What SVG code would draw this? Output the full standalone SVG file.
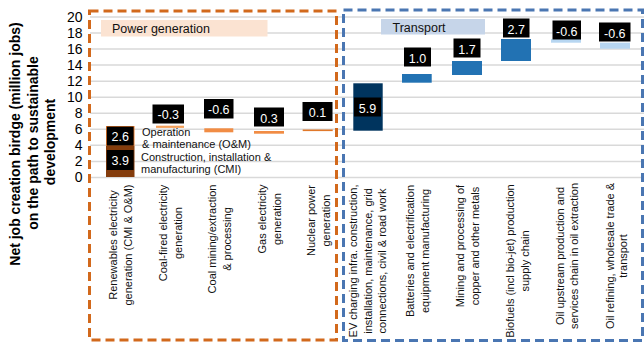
<svg xmlns="http://www.w3.org/2000/svg" width="644" height="343" viewBox="0 0 644 343">
<style>
text{font-family:"Liberation Sans",Arial,sans-serif;fill:#000}
.tick{font-size:14px;text-anchor:end}
.ytitle{font-size:14px;font-weight:bold;text-anchor:middle}
.cat{font-size:11px;text-anchor:middle;fill:#111}
.leg{font-size:11px;fill:#111}
.val{font-size:12.5px;fill:#fff;text-anchor:middle}
.vbox{fill:#000}
.grid{stroke:#D9D9D9;stroke-width:1.5}
.sect{font-size:12.5px;fill:#111}
</style>
<rect width="644" height="343" fill="#fff"/>
<g id="gridlines">
<line class="grid" x1="90" y1="17" x2="644" y2="17"/>
<line class="grid" x1="90" y1="33" x2="644" y2="33"/>
<line class="grid" x1="90" y1="49.1" x2="644" y2="49.1"/>
<line class="grid" x1="90" y1="65.1" x2="644" y2="65.1"/>
<line class="grid" x1="90" y1="81.2" x2="644" y2="81.2"/>
<line class="grid" x1="90" y1="97.2" x2="644" y2="97.2"/>
<line class="grid" x1="90" y1="113.2" x2="644" y2="113.2"/>
<line class="grid" x1="90" y1="129.3" x2="644" y2="129.3"/>
<line class="grid" x1="90" y1="145.3" x2="644" y2="145.3"/>
<line class="grid" x1="90" y1="161.4" x2="644" y2="161.4"/>
<line class="grid" x1="90" y1="177.4" x2="644" y2="177.4"/>
</g>
<g id="y-axis">
<text class="tick" x="82.5" y="21.5">20</text>
<text class="tick" x="82.5" y="37.5">18</text>
<text class="tick" x="82.5" y="53.6">16</text>
<text class="tick" x="82.5" y="69.6">14</text>
<text class="tick" x="82.5" y="85.7">12</text>
<text class="tick" x="82.5" y="101.7">10</text>
<text class="tick" x="82.5" y="117.7">8</text>
<text class="tick" x="82.5" y="133.8">6</text>
<text class="tick" x="82.5" y="149.8">4</text>
<text class="tick" x="82.5" y="165.9">2</text>
<text class="tick" x="82.5" y="181.9">0</text>
<text class="ytitle" transform="translate(20,144) rotate(-90)">Net job creation birdge (million jobs)</text>
<text class="ytitle" transform="translate(37.5,143) rotate(-90)">on the path to sustainable</text>
<text class="ytitle" transform="translate(55,142) rotate(-90)">development</text>
</g>
<g id="power-section">
<rect x="89.5" y="11" width="247" height="329" fill="none" stroke="#D2691C" stroke-width="3" stroke-dasharray="9,5"/>
<rect x="101" y="20" width="166.5" height="16.5" fill="#FBE3D2"/>
<text class="sect" x="112" y="33">Power generation</text>
</g>
<g id="transport-section">
<rect x="343.5" y="10" width="299" height="330.5" fill="none" stroke="#4A76B2" stroke-width="3" stroke-dasharray="9,5"/>
<rect x="381" y="19" width="104" height="15.5" fill="#C6D5E9"/>
<text class="sect" x="392.5" y="31.5">Transport</text>
</g>
<g id="renewables">
<rect x="106" y="126" width="28.5" height="20" fill="#E97A2B"/>
<rect x="106" y="146" width="28.5" height="31" fill="#843C0C"/>
<rect class="vbox" x="106.8" y="126.6" width="26.8" height="19"/>
<text class="val" x="120.2" y="141">2.6</text>
<rect class="vbox" x="106.8" y="150" width="26.8" height="20"/>
<text class="val" x="120.2" y="165">3.9</text>
<text class="leg" x="142" y="136">Operation</text>
<text class="leg" x="142" y="147.5">&amp; maintenance (O&amp;M)</text>
<text class="leg" x="141" y="160.5">Construction, installation &amp;</text>
<text class="leg" x="141" y="173">manufacturing (CMI)</text>
<text class="cat" transform="translate(117,245) rotate(-90)">Renewables electricity</text>
<text class="cat" transform="translate(131.5,245) rotate(-90)">generation (CMI &amp; O&amp;M)</text>
</g>
<g id="coal-fired">
<rect x="156" y="125.7" width="28" height="2.2" fill="#F4A05A"/>
<rect class="vbox" x="152.5" y="104.5" width="31.5" height="19"/>
<text class="val" x="168.3" y="119">-0.3</text>
<text class="cat" transform="translate(167,233) rotate(-90)">Coal-fired electricity</text>
<text class="cat" transform="translate(181.5,233) rotate(-90)">generation</text>
</g>
<g id="coal-mining">
<rect x="204.3" y="128.3" width="29" height="4" fill="#F18C44"/>
<rect class="vbox" x="204" y="99" width="29.5" height="19.5"/>
<text class="val" x="218.8" y="114">-0.6</text>
<text class="cat" transform="translate(215.5,239) rotate(-90)">Coal mining/extraction</text>
<text class="cat" transform="translate(230.5,239) rotate(-90)">&amp; processing</text>
</g>
<g id="gas">
<rect x="254" y="131" width="30" height="2.7" fill="#F18C44"/>
<rect class="vbox" x="254" y="107.5" width="30" height="19"/>
<text class="val" x="269" y="122.5">0.3</text>
<text class="cat" transform="translate(265.5,219) rotate(-90)">Gas electricity</text>
<text class="cat" transform="translate(280.5,219) rotate(-90)">generation</text>
</g>
<g id="nuclear">
<rect x="302.7" y="129.5" width="30" height="1.6" fill="#E0782A"/>
<rect class="vbox" x="302.5" y="102" width="30" height="19"/>
<text class="val" x="317.5" y="117">0.1</text>
<text class="cat" transform="translate(315,220.5) rotate(-90)">Nuclear power</text>
<text class="cat" transform="translate(330,220.5) rotate(-90)">generation</text>
</g>
<g id="ev-charging">
<rect x="353.3" y="83.3" width="29.4" height="47.4" fill="#00345E"/>
<rect class="vbox" x="354" y="97.5" width="27" height="19"/>
<text class="val" x="367.5" y="112.5">5.9</text>
<text class="cat" transform="translate(357,261) rotate(-90)">EV charging infra. construction,</text>
<text class="cat" transform="translate(371.5,261) rotate(-90)">installation, maintenance, grid</text>
<text class="cat" transform="translate(385.5,261) rotate(-90)">connections, civil &amp; road work</text>
</g>
<g id="batteries">
<rect x="402" y="74" width="29.7" height="8.7" fill="#2272B3"/>
<rect class="vbox" x="404" y="47.5" width="27" height="19"/>
<text class="val" x="417.5" y="62.5">1.0</text>
<text class="cat" transform="translate(414,251) rotate(-90)">Batteries and electrification</text>
<text class="cat" transform="translate(428.5,251) rotate(-90)">equipment manufacturing</text>
</g>
<g id="mining">
<rect x="452" y="61" width="30" height="14" fill="#2272B3"/>
<rect class="vbox" x="453.5" y="38.5" width="27" height="19"/>
<text class="val" x="467" y="53.5">1.7</text>
<text class="cat" transform="translate(464,246) rotate(-90)">Mining and processing of</text>
<text class="cat" transform="translate(478.5,246) rotate(-90)">copper and other metals</text>
</g>
<g id="biofuels">
<rect x="501" y="39" width="30" height="22" fill="#2272B3"/>
<rect class="vbox" x="503" y="18.5" width="26.5" height="19"/>
<text class="val" x="516.3" y="33.5">2.7</text>
<text class="cat" transform="translate(514,261) rotate(-90)">Biofuels (incl bio-jet) production</text>
<text class="cat" transform="translate(528.5,261) rotate(-90)">supply chain</text>
</g>
<g id="oil-upstream">
<rect x="551" y="39" width="30" height="3.7" fill="#B7D6F1"/>
<rect class="vbox" x="552.5" y="20.5" width="28.5" height="19"/>
<text class="val" x="566.8" y="35.5">-0.6</text>
<text class="cat" transform="translate(564,256) rotate(-90)">Oil upstream production and</text>
<text class="cat" transform="translate(577.5,256) rotate(-90)">services chain in oil extraction</text>
</g>
<g id="oil-refining">
<rect x="600" y="42.7" width="30" height="6" fill="#B7D6F1"/>
<rect class="vbox" x="599" y="22.5" width="31.5" height="19"/>
<text class="val" x="614.8" y="37.5">-0.6</text>
<text class="cat" transform="translate(614,256) rotate(-90)">Oil refining, wholesale trade &amp;</text>
<text class="cat" transform="translate(627,256) rotate(-90)">transport</text>
</g>
</svg>
